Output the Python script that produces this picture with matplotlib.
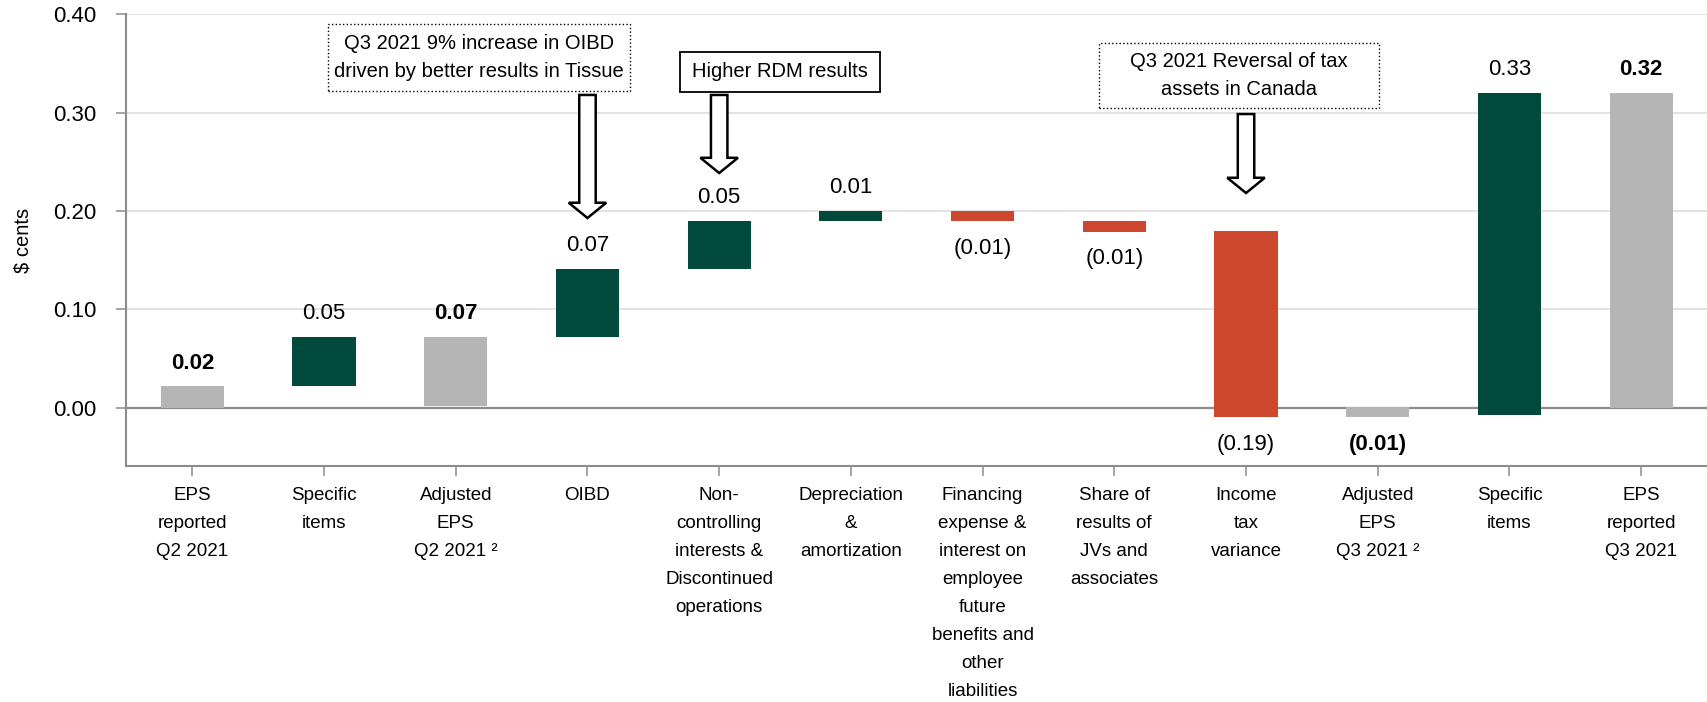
import matplotlib
matplotlib.use("Agg")
import matplotlib.pyplot as plt
from matplotlib import font_manager
from matplotlib.patches import Rectangle, FancyArrow

# EPS bridge Q2 2021 -> Q3 2021
categories = [
    "EPS\nreported\nQ2 2021",
    "Specific\nitems",
    "Adjusted\nEPS\nQ2 2021 \u00b2",
    "OIBD",
    "Non-\ncontrolling\ninterests &\nDiscontinued\noperations",
    "Depreciation\n&\namortization",
    "Financing\nexpense &\ninterest on\nemployee\nfuture\nbenefits and\nother\nliabilities",
    "Share of\nresults of\nJVs and\nassociates",
    "Income\ntax\nvariance",
    "Adjusted\nEPS\nQ3 2021 \u00b2",
    "Specific\nitems",
    "EPS\nreported\nQ3 2021",
]
bar_low = [0.0, 0.022, 0.002, 0.0715, 0.1415, 0.1895, 0.1895, 0.179,
           -0.0098, -0.0098, -0.0078, 0.0]
bar_high = [0.0217, 0.072, 0.072, 0.1414, 0.190, 0.2004, 0.2004, 0.190,
            0.180, 0.001, 0.3204, 0.3204]
bar_kind = ["total", "up", "total", "up", "up", "up", "down", "down",
            "down", "total", "up", "total"]
value_labels = ["0.02", "0.05", "0.07", "0.07", "0.05", "0.01", "(0.01)",
                "(0.01)", "(0.19)", "(0.01)", "0.33", "0.32"]
label_bold = [True, False, True, False, False, False, False, False,
              False, True, False, True]
y_ticks = [0.0, 0.1, 0.2, 0.3, 0.4]

colors = {"total": "#b5b5b5", "up": "#024a3c", "down": "#cc472d"}
grid_color = "#e3e3e3"
axis_color = "#8c8c8c"

# narrow face for the numbers if it is there
try:
    font_manager.findfont("Liberation Sans Narrow", fallback_to_default=False)
    num_family, num_size = "Liberation Sans Narrow", 18
except ValueError:
    num_family, num_size = "Liberation Sans", 16

plt.rcParams["font.family"] = ["Liberation Sans", "DejaVu Sans"]

fig = plt.figure(figsize=(17.07, 7.02), dpi=100)
ax = fig.add_axes([0.0741, 0.3362, 0.9259, 0.6434])

x = list(range(len(categories)))
heights = [h - l for l, h in zip(bar_low, bar_high)]
ax.bar(x, heights, bottom=bar_low, width=0.48,
       color=[colors[k] for k in bar_kind], zorder=3)

for i, txt in enumerate(value_labels):
    below = txt.startswith("(")
    y = bar_low[i] if below else bar_high[i]
    ax.annotate(txt, (i, y), xytext=(0, -27 if below else 23),
                textcoords="offset pixels", ha="center", va="center",
                family=num_family, fontsize=num_size,
                fontweight="bold" if label_bold[i] else "normal",
                color="black", zorder=5)

ax.set_xlim(-0.5, len(categories) - 0.5)
ax.set_ylim(-0.0593, 0.40)
ax.set_yticks(y_ticks)
ax.set_yticklabels([f"{v:.2f}" for v in y_ticks], family=num_family,
                   fontsize=num_size)
ax.set_xticks(x)
ax.set_xticklabels(categories, fontsize=13.5, linespacing=1.85, va="top")

ax.yaxis.grid(True, color=grid_color, linewidth=1.5, zorder=0)
ax.axhline(0, color=axis_color, linewidth=1.6, zorder=2)
for side in ("top", "right"):
    ax.spines[side].set_visible(False)
for side in ("left", "bottom"):
    ax.spines[side].set_color(axis_color)
    ax.spines[side].set_linewidth(1.5)
ax.tick_params(axis="y", length=7.5, width=1.1, color=axis_color, pad=14)
ax.tick_params(axis="x", length=7.5, width=1.1, color=axis_color, pad=7.5)
ax.set_ylabel("$ cents", fontsize=14.5, labelpad=15)

# callout boxes with hollow arrows
callouts = [
    ((1.027, 0.322), (3.323, 0.390), ":",
     "Q3 2021 9% increase in OIBD\ndriven by better results in Tissue"),
    ((3.703, 0.321), (5.224, 0.3617), "-", "Higher RDM results"),
    ((6.882, 0.3047), (9.011, 0.3708), ":",
     "Q3 2021 Reversal of tax\nassets in Canada"),
]
for (x0, y0), (x1, y1), ls, txt in callouts:
    ax.add_patch(Rectangle((x0, y0), x1 - x0, y1 - y0, fill=False,
                           edgecolor="black", linewidth=1.0 if ls == ":" else 1.3,
                           linestyle=ls, zorder=6, clip_on=False))
    ax.text((x0 + x1) / 2, (y0 + y1) / 2, txt, ha="center", va="center",
            fontsize=14.5, linespacing=1.6, zorder=7)

arrows = [(3, 0.318, 0.1929), (4, 0.318, 0.2386), (8, 0.2986, 0.2183)]
for ax_x, top, tip in arrows:
    ax.add_patch(FancyArrow(ax_x, top, 0, tip - top, width=0.125,
                            head_width=0.285, head_length=0.0155,
                            length_includes_head=True, facecolor="white",
                            edgecolor="black", linewidth=1.8, zorder=6))

fig.savefig("out.png", dpi=100)
